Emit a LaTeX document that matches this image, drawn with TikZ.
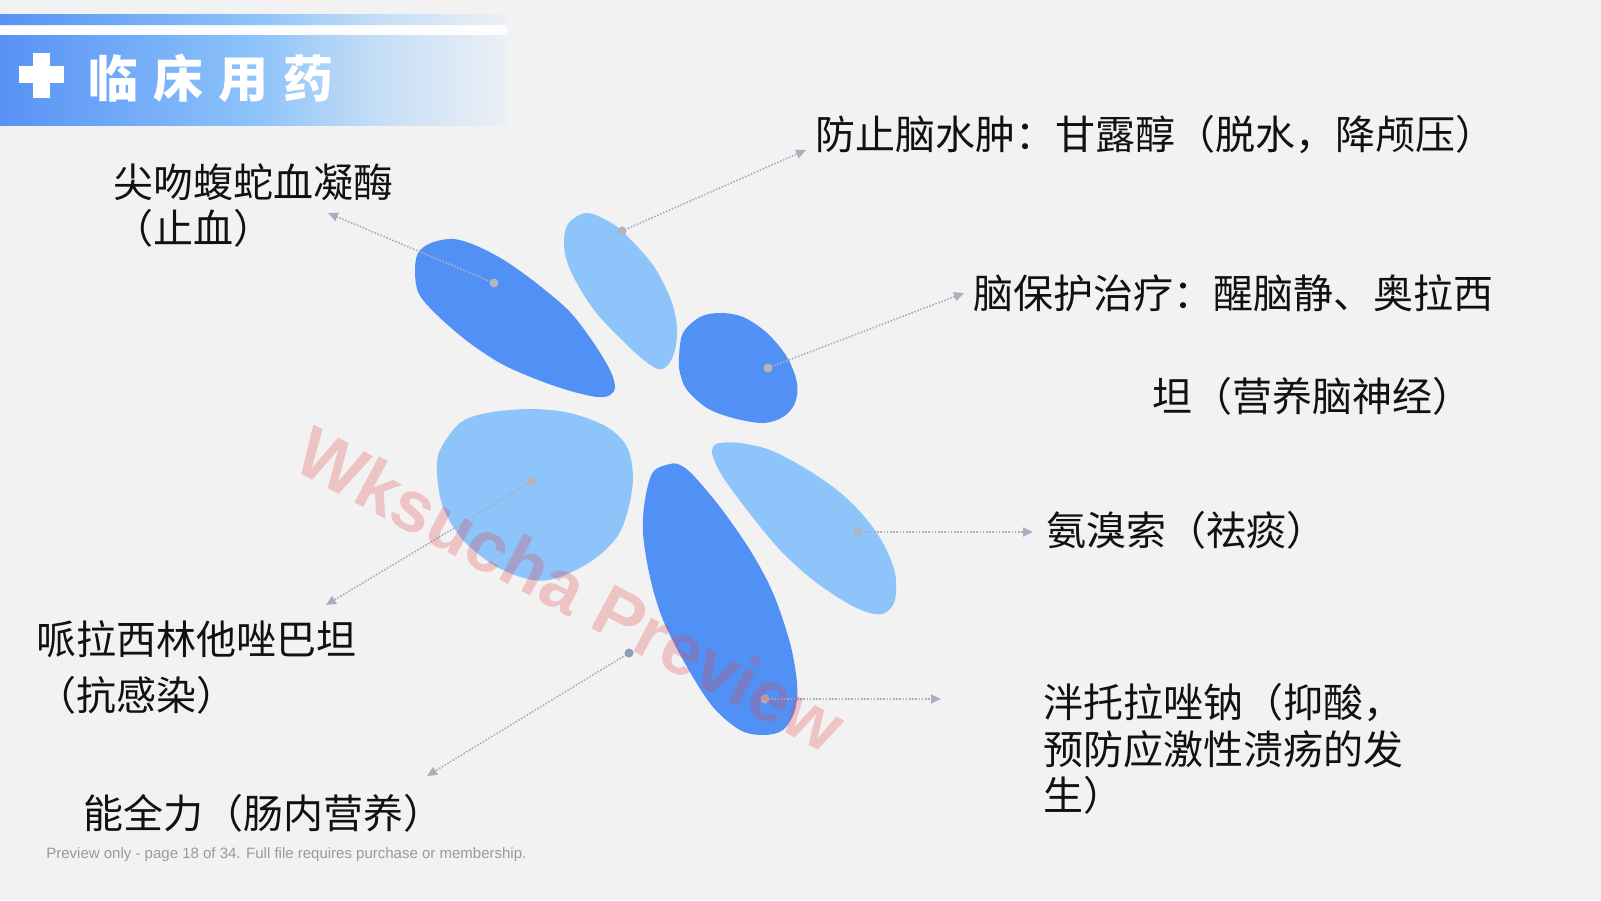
\documentclass[tikz,border=0pt]{standalone}
\usepackage{fontspec}
\setmainfont{Liberation Sans}
\newfontfamily\cjk{Noto Sans CJK SC}
\usetikzlibrary{arrows.meta}
\definecolor{bgc}{HTML}{F2F2F2}
\definecolor{bA}{RGB}{88,146,245}
\definecolor{bB}{RGB}{140,195,250}
\definecolor{bC}{RGB}{198,222,246}
\definecolor{bD}{RGB}{236,240,245}
\definecolor{petD}{HTML}{5191F6}
\definecolor{petL}{HTML}{8DC4FA}
\definecolor{linec}{HTML}{A6B0BF}
\definecolor{dotc}{HTML}{B3B5BC}
\definecolor{dotb}{HTML}{8E9DB3}
\definecolor{footc}{HTML}{9A9A9A}
\definecolor{wmc}{RGB}{225,70,70}
\definecolor{txtc}{HTML}{111111}
\pgfdeclarehorizontalshading{bannershade}{100bp}{color(0bp)=(bA); color(25bp)=(bA); color(50bp)=(bB); color(62.5bp)=(bC); color(75bp)=(bD); color(100bp)=(bD)}
\tikzset{
  lbl/.style={font=\cjk\fontsize{20pt}{24pt}\selectfont, inner sep=0pt, text=txtc},
  conn/.style={draw=linec, line width=0.8pt, dash pattern=on 0.8pt off 0.8pt, -{Triangle[length=5pt,width=4.5pt]}},
  dotg/.style={fill=dotc},
  petal/.style={smooth cycle, tension=0.55},
}
\begin{document}
\begin{tikzpicture}[x=0.5pt,y=-0.5pt]
\useasboundingbox (0,0) rectangle (1601,900);
\fill[bgc] (0,0) rectangle (1601,900);
% header
\shade[shading=bannershade] (0,14) rectangle (507,25);
\fill[white, opacity=0.85] (0,25) rectangle (507,35);
\shade[shading=bannershade] (0,35) rectangle (507,125);
\fill[white] (33,53) rectangle (50,98);
\fill[white] (19,65.5) rectangle (64,82.5);
\node[anchor=west, inner sep=0pt, text=white, font=\cjk\bfseries\fontsize{25pt}{25pt}\selectfont] (title) at (88,78) {临\hspace{7.5pt}床\hspace{7.5pt}用\hspace{7.5pt}药};
% petals
\fill[petD] plot[petal] coordinates {(415,272) (418,253) (431,243) (453,239) (477,246) (507,262) (540,286) (570,312) (593,342) (610,370) (615,387) (610,395) (597,397) (567,390) (533,378) (500,363) (467,341) (437,315) (419,294)};
\fill[petL] plot[petal] coordinates {(587,213) (613,224) (634,243) (655,268) (671,300) (677,327) (675,350) (668,365) (658,369) (640,357) (619,337) (598,315) (582,292) (569,267) (564,245) (568,224)};
\fill[petD] plot[petal] coordinates {(679,357) (683,333) (700,317) (720,313) (743,317) (767,333) (787,357) (797,383) (795,403) (783,417) (763,423) (733,418) (707,408) (687,390) (680,373)};
\fill[petL] plot[petal] coordinates {(437,473) (440,450) (460,423) (487,413) (530,409) (570,413) (607,427) (627,447) (633,477) (628,510) (617,537) (593,560) (560,577) (533,580) (497,567) (463,540) (443,507)};
\fill[petD] plot[petal] coordinates {(670,464) (680,465) (693,475) (720,507) (750,550) (773,593) (790,643) (797,683) (795,710) (783,730) (763,735) (740,730) (713,707) (687,667) (663,620) (650,577) (643,533) (645,500) (653,472)};
\fill[petL] plot[petal] coordinates {(713,447) (720,443) (740,443) (770,450) (803,467) (837,490) (863,515) (883,543) (895,573) (895,600) (885,613) (870,613) (847,603) (813,580) (780,550) (747,510) (723,477) (713,457)};
% labels
\node[lbl, anchor=west] (t1) at (815,135) {防止脑水肿：甘露醇（脱水，降颅压）};
\node[lbl, anchor=west] (t2) at (973,293) {脑保护治疗：醒脑静、奥拉西};
\node[lbl, anchor=west] (t2b) at (1152,396) {坦（营养脑神经）};
\node[lbl, anchor=west] (t3) at (1046,530) {氨溴索（祛痰）};
\node[lbl, anchor=north west, align=left, font=\cjk\fontsize{20pt}{23.25pt}\selectfont] (t4) at (1043,683) {泮托拉唑钠（抑酸，\\预防应激性溃疡的发\\生）};
\node[lbl, anchor=west] (t5) at (83,813) {能全力（肠内营养）};
\node[lbl, anchor=north west, align=left, font=\cjk\fontsize{20pt}{28pt}\selectfont] (t6) at (36,620) {哌拉西林他唑巴坦\\（抗感染）};
\node[lbl, anchor=north west, align=left, font=\cjk\fontsize{20pt}{23pt}\selectfont] (t7) at (113,163) {尖吻蝮蛇血凝酶\\（止血）};
% connectors
\coordinate (d1) at (494,283); \coordinate (a1) at (328,213);
\coordinate (d2) at (622,231); \coordinate (a2) at (806,150);
\coordinate (d3) at (768,368); \coordinate (a3) at (964,293);
\coordinate (d4) at (858,532); \coordinate (a4) at (1033,532);
\coordinate (d5) at (765,699); \coordinate (a5) at (941,699);
\coordinate (d6) at (531,482); \coordinate (a6) at (326,605);
\coordinate (d7) at (629,653); \coordinate (a7) at (427,776);
\foreach \i in {1,...,7} {\draw[conn] (d\i) -- (a\i);}
\foreach \i in {1,...,6} {\fill[dotg] (d\i) circle (4.5);}
\fill[dotb] (d7) circle (4.5);
% footer
\node[anchor=west, inner sep=0pt, text=footc, font=\fontsize{7.5pt}{9pt}\selectfont] (foot) at (46,855) {Preview only - page 18 of 34. Full file requires purchase or membership.};
% watermark
\node[rotate=-28, inner sep=0pt, text=wmc, text opacity=0.27, font=\bfseries\fontsize{36pt}{36pt}\selectfont] (wm) at (571,589) {Wksucha Preview};
\end{tikzpicture}
\end{document}
